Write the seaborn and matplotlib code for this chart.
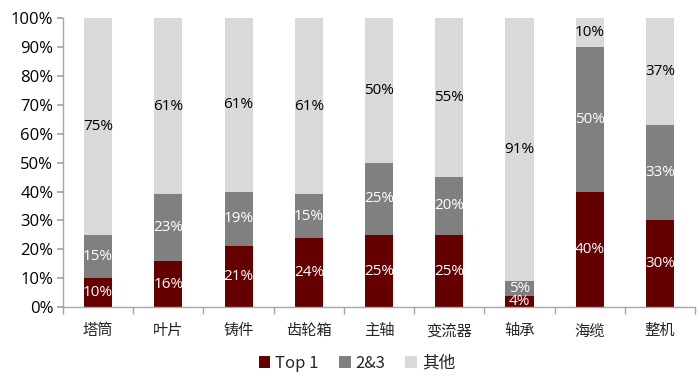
import matplotlib
matplotlib.use("Agg")
import matplotlib.pyplot as plt
import seaborn as sns
import pandas as pd
import numpy as np
from matplotlib.patches import Patch

categories = ["塔筒", "叶片", "铸件", "齿轮箱", "主轴", "变流器", "轴承", "海缆", "整机"]
top1 = [10, 16, 21, 24, 25, 25, 4, 40, 30]
top23 = [15, 23, 19, 15, 25, 20, 5, 50, 33]
others = [75, 61, 61, 61, 50, 55, 91, 10, 37]
series_names = ["Top 1", "2&3", "其他"]
colors = ["#640000", "#808080", "#D9D9D9"]
label_colors = ["white", "white", "black"]

sns.set_theme(style="white")
plt.rcParams['font.family'] = ['Noto Sans CJK SC', 'DejaVu Sans']

fig = plt.figure(figsize=(7, 3.83), dpi=100)
ax = fig.add_axes([0.09, 0.198, 0.903, 0.755])

t1 = np.array(top1, dtype=float)
t2 = np.array(top23, dtype=float)
t3 = np.array(others, dtype=float)
c1 = t1
c2 = t1 + t2
c3 = np.minimum(t1 + t2 + t3, 100)

df = pd.DataFrame({"cat": categories, "c1": c1, "c2": c2, "c3": c3})
bw = 0.4
for col, colr in zip(["c3", "c2", "c1"], colors[::-1]):
    sns.barplot(data=df, x="cat", y=col, color=colr, width=bw, ax=ax,
                saturation=1, linewidth=0, errorbar=None)

vals = [t1, t2, t3]
bottoms = [np.zeros_like(c1), c1, c2]
tops = [c1, c2, c3]
for s in range(3):
    for i in range(len(categories)):
        y = (bottoms[s][i] + tops[s][i]) / 2
        ax.text(i, y, f"{int(vals[s][i])}%", ha="center", va="center",
                color=label_colors[s], fontsize=11, family=['Open Sans', 'DejaVu Sans'])

ax.set_ylim(0, 100)
ax.set_xlim(-0.5, len(categories) - 0.5)
ax.set_yticks(np.arange(0, 101, 10))
ax.set_yticklabels([f"{v}%" for v in range(0, 101, 10)], fontsize=12,
                   family=['Open Sans', 'DejaVu Sans'])
ax.set_xticks(range(len(categories)))
ax.set_xticklabels(categories, fontsize=11)
ax.set_xlabel("")
ax.set_ylabel("")
for sp in ["top", "right"]:
    ax.spines[sp].set_visible(False)
for sp in ["left", "bottom"]:
    ax.spines[sp].set_color("#A6A6A6")
    ax.spines[sp].set_linewidth(1)
ax.tick_params(axis="y", which="major", left=True, length=4, color="#A6A6A6", pad=3, colors="black")
ax.tick_params(axis="x", which="major", bottom=False, pad=5)
ax.set_xticks(np.arange(-0.5, len(categories), 1), minor=True)
ax.tick_params(axis="x", which="minor", bottom=True, length=5, color="#A6A6A6")
ax.grid(False)

handles = [Patch(facecolor=c, edgecolor="none", label=n) for c, n in zip(colors, series_names)]
fig.legend(handles=handles, loc="center", bbox_to_anchor=(0.51, 0.052), ncol=3, frameon=False,
           fontsize=12, handlelength=0.7, handleheight=0.7, handletextpad=0.3, columnspacing=1.2)

fig.savefig("out.png", dpi=100)
